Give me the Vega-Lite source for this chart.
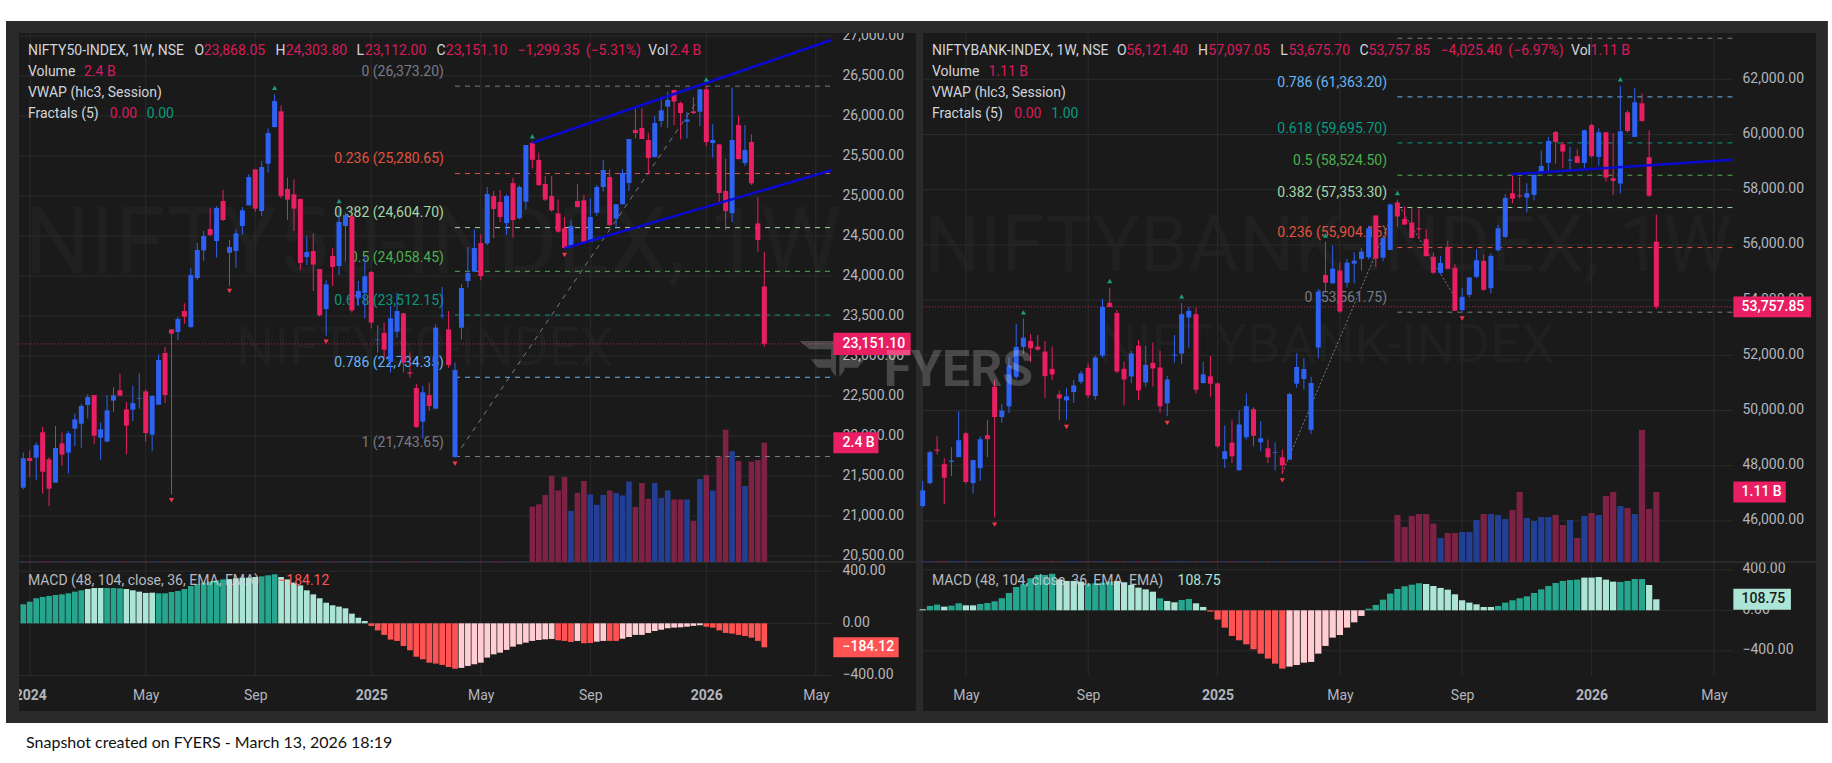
{
"$schema":"https://vega.github.io/schema/vega-lite/v6.json",
"background":"white",
"padding":{"left":5,"top":20,"right":5,"bottom":5},
"config":{"font":"Roboto","view":{"fill":"#1a1a1a","stroke":null},"axis":{"labelColor":"#b2b5be","labelFontSize":14,"domain":false,"ticks":false,"grid":false,"title":null,"labelOverlap":false,"labelBound":false,"labelFlush":false}},
"bounds":"flush",
"spacing":7,
"datasets":{
"nifty":[
{"d":"2023-12-25","o":21354,"h":21792,"l":21333,"c":21721,"v":0.01,"m":146,"t":"gu"},
{"d":"2024-01-01","o":21725,"h":21821,"l":21487,"c":21687,"v":0.01,"m":166,"t":"gu"},
{"d":"2024-01-08","o":21729,"h":21917,"l":21446,"c":21887,"v":0.01,"m":192,"t":"gu"},
{"d":"2024-01-15","o":22046,"h":22112,"l":21279,"c":21554,"v":0.01,"m":202,"t":"gu"},
{"d":"2024-01-22","o":21708,"h":21737,"l":21125,"c":21342,"v":0.01,"m":210,"t":"gu"},
{"d":"2024-01-29","o":21417,"h":22125,"l":21417,"c":21850,"v":0.01,"m":217,"t":"gu"},
{"d":"2024-02-05","o":21908,"h":22042,"l":21625,"c":21767,"v":0.01,"m":222,"t":"gu"},
{"d":"2024-02-12","o":21792,"h":22062,"l":21529,"c":22033,"v":0.01,"m":230,"t":"gu"},
{"d":"2024-02-19","o":22092,"h":22279,"l":21875,"c":22208,"v":0.01,"m":243,"t":"gu"},
{"d":"2024-02-26","o":22154,"h":22404,"l":21854,"c":22375,"v":0.01,"m":253,"t":"gu"},
{"d":"2024-03-04","o":22387,"h":22521,"l":22221,"c":22487,"v":0.01,"m":263,"t":"fu"},
{"d":"2024-03-11","o":22512,"h":22512,"l":21904,"c":22004,"v":0.01,"m":271,"t":"fu"},
{"d":"2024-03-18","o":21979,"h":22167,"l":21704,"c":22083,"v":0.01,"m":271,"t":"fu"},
{"d":"2024-03-25","o":21929,"h":22508,"l":21929,"c":22321,"v":0.01,"m":271,"t":"gu"},
{"d":"2024-04-01","o":22442,"h":22612,"l":22304,"c":22508,"v":0.01,"m":271,"t":"gu"},
{"d":"2024-04-08","o":22571,"h":22779,"l":22500,"c":22504,"v":0.01,"m":268,"t":"gu"},
{"d":"2024-04-15","o":22333,"h":22425,"l":21771,"c":22129,"v":0.01,"m":263,"t":"fu"},
{"d":"2024-04-22","o":22329,"h":22625,"l":22187,"c":22412,"v":0.01,"m":253,"t":"fu"},
{"d":"2024-04-29","o":22467,"h":22783,"l":22342,"c":22475,"v":0.01,"m":243,"t":"fu"},
{"d":"2024-05-06","o":22558,"h":22583,"l":21925,"c":22037,"v":0.01,"m":233,"t":"fu"},
{"d":"2024-05-13","o":22017,"h":22512,"l":21812,"c":22500,"v":0.01,"m":235,"t":"fu"},
{"d":"2024-05-20","o":22392,"h":23021,"l":22392,"c":22950,"v":0.01,"m":230,"t":"gu"},
{"d":"2024-05-27","o":23037,"h":23112,"l":22412,"c":22512,"v":0.01,"m":230,"t":"gu"},
{"d":"2024-06-03","o":23333,"h":23333,"l":21271,"c":23279,"v":0.01,"m":240,"t":"gu"},
{"d":"2024-06-10","o":23300,"h":23487,"l":23200,"c":23462,"v":0.01,"m":248,"t":"gu"},
{"d":"2024-06-17","o":23562,"h":23658,"l":23404,"c":23492,"v":0.01,"m":263,"t":"gu"},
{"d":"2024-06-24","o":23362,"h":24095,"l":23354,"c":24012,"v":0.01,"m":286,"t":"gu"},
{"d":"2024-07-01","o":23975,"h":24412,"l":23950,"c":24325,"v":0.01,"m":299,"t":"gu"},
{"d":"2024-07-08","o":24320,"h":24562,"l":24190,"c":24500,"v":0.01,"m":312,"t":"gu"},
{"d":"2024-07-15","o":24587,"h":24850,"l":24500,"c":24512,"v":0.01,"m":320,"t":"gu"},
{"d":"2024-07-22","o":24437,"h":24875,"l":24230,"c":24850,"v":0.01,"m":330,"t":"gu"},
{"d":"2024-07-29","o":24937,"h":25075,"l":24687,"c":24700,"v":0.01,"m":337,"t":"gu"},
{"d":"2024-08-05","o":24291,"h":24450,"l":23875,"c":24362,"v":0.01,"m":335,"t":"fu"},
{"d":"2024-08-12","o":24312,"h":24583,"l":24104,"c":24533,"v":0.01,"m":345,"t":"fu"},
{"d":"2024-08-19","o":24625,"h":24862,"l":24521,"c":24821,"v":0.01,"m":350,"t":"fu"},
{"d":"2024-08-26","o":24883,"h":25271,"l":24883,"c":25237,"v":0.01,"m":350,"t":"fu"},
{"d":"2024-09-02","o":25333,"h":25333,"l":24804,"c":24842,"v":0.01,"m":355,"t":"fu"},
{"d":"2024-09-09","o":24812,"h":25437,"l":24750,"c":25362,"v":0.01,"m":360,"t":"gu"},
{"d":"2024-09-16","o":25404,"h":25846,"l":25292,"c":25787,"v":0.01,"m":368,"t":"gu"},
{"d":"2024-09-23","o":25862,"h":26271,"l":25854,"c":26187,"v":0.01,"m":376,"t":"gu"},
{"d":"2024-09-30","o":26058,"h":26133,"l":24971,"c":25000,"v":0.01,"m":355,"t":"fu"},
{"d":"2024-10-07","o":25087,"h":25229,"l":24700,"c":24954,"v":0.01,"m":337,"t":"fu"},
{"d":"2024-10-14","o":25021,"h":25208,"l":24562,"c":24842,"v":0.01,"m":312,"t":"fu"},
{"d":"2024-10-21","o":24962,"h":24966,"l":24075,"c":24162,"v":0.01,"m":291,"t":"fu"},
{"d":"2024-10-28","o":24237,"h":24500,"l":24137,"c":24300,"v":0.01,"m":253,"t":"fu"},
{"d":"2024-11-04","o":24312,"h":24529,"l":23812,"c":24142,"v":0.01,"m":222,"t":"fu"},
{"d":"2024-11-11","o":24087,"h":24087,"l":23492,"c":23508,"v":0.01,"m":192,"t":"fu"},
{"d":"2024-11-18","o":23587,"h":23946,"l":23250,"c":23896,"v":0.01,"m":158,"t":"fu"},
{"d":"2024-11-25","o":24250,"h":24346,"l":23875,"c":24112,"v":0.01,"m":138,"t":"fu"},
{"d":"2024-12-02","o":24125,"h":24854,"l":24012,"c":24675,"v":0.01,"m":128,"t":"fu"},
{"d":"2024-12-09","o":24625,"h":24792,"l":24179,"c":24762,"v":0.01,"m":115,"t":"fu"},
{"d":"2024-12-16","o":24746,"h":24762,"l":23542,"c":23571,"v":0.01,"m":74,"t":"fu"},
{"d":"2024-12-23","o":23721,"h":23937,"l":23625,"c":23812,"v":0.01,"m":43,"t":"fu"},
{"d":"2024-12-30","o":23787,"h":24250,"l":23471,"c":23996,"v":0.01,"m":18,"t":"fu"},
{"d":"2025-01-06","o":24050,"h":24062,"l":23346,"c":23417,"v":0.01,"m":-20,"t":"gd"},
{"d":"2025-01-13","o":23196,"h":23387,"l":23041,"c":23204,"v":0.01,"m":-54,"t":"gd"},
{"d":"2025-01-20","o":23287,"h":23417,"l":22979,"c":23079,"v":0.01,"m":-89,"t":"gd"},
{"d":"2025-01-27","o":22929,"h":23625,"l":22792,"c":23471,"v":0.01,"m":-125,"t":"gd"},
{"d":"2025-02-03","o":23304,"h":23792,"l":23229,"c":23562,"v":0.01,"m":-135,"t":"gd"},
{"d":"2025-02-10","o":23533,"h":23541,"l":22792,"c":22917,"v":0.01,"m":-174,"t":"gd"},
{"d":"2025-02-17","o":22796,"h":23041,"l":22729,"c":22779,"v":0.01,"m":-207,"t":"gd"},
{"d":"2025-02-24","o":22600,"h":22654,"l":22104,"c":22112,"v":0.01,"m":-256,"t":"gd"},
{"d":"2025-03-03","o":22179,"h":22625,"l":21967,"c":22546,"v":0.01,"m":-276,"t":"gd"},
{"d":"2025-03-10","o":22512,"h":22667,"l":22312,"c":22375,"v":0.01,"m":-302,"t":"gd"},
{"d":"2025-03-17","o":22342,"h":23396,"l":22333,"c":23354,"v":0.01,"m":-309,"t":"gd"},
{"d":"2025-03-24","o":23500,"h":23862,"l":23471,"c":23508,"v":0.01,"m":-319,"t":"gd"},
{"d":"2025-03-31","o":23333,"h":23562,"l":22854,"c":22887,"v":0.01,"m":-335,"t":"gd"},
{"d":"2025-04-07","o":21737,"h":22917,"l":21729,"c":22825,"v":0.01,"m":-348,"t":"gd"},
{"d":"2025-04-14","o":23354,"h":23896,"l":23208,"c":23850,"v":0.01,"m":-342,"t":"fd"},
{"d":"2025-04-21","o":23937,"h":24362,"l":23854,"c":24037,"v":0.01,"m":-327,"t":"fd"},
{"d":"2025-04-28","o":24054,"h":24583,"l":24054,"c":24350,"v":0.01,"m":-314,"t":"fd"},
{"d":"2025-05-05","o":24412,"h":24521,"l":23946,"c":24000,"v":0.01,"m":-302,"t":"fd"},
{"d":"2025-05-12","o":24408,"h":25112,"l":24387,"c":25025,"v":0.01,"m":-263,"t":"fd"},
{"d":"2025-05-19","o":25000,"h":25062,"l":24471,"c":24837,"v":0.01,"m":-238,"t":"fd"},
{"d":"2025-05-26","o":24925,"h":25075,"l":24671,"c":24737,"v":0.01,"m":-225,"t":"fd"},
{"d":"2025-06-02","o":24662,"h":25021,"l":24512,"c":25000,"v":0.01,"m":-204,"t":"fd"},
{"d":"2025-06-09","o":25162,"h":25229,"l":24479,"c":24700,"v":0.01,"m":-179,"t":"fd"},
{"d":"2025-06-16","o":24721,"h":25133,"l":24708,"c":25112,"v":0.01,"m":-161,"t":"fd"},
{"d":"2025-06-23","o":24929,"h":25637,"l":24833,"c":25637,"v":0.01,"m":-148,"t":"fd"},
{"d":"2025-06-30","o":25662,"h":25687,"l":25341,"c":25454,"v":1.11,"m":-135,"t":"fd"},
{"d":"2025-07-07","o":25450,"h":25541,"l":25125,"c":25137,"v":1.16,"m":-128,"t":"fd"},
{"d":"2025-07-14","o":25150,"h":25250,"l":24937,"c":24954,"v":1.35,"m":-123,"t":"fd"},
{"d":"2025-07-21","o":25000,"h":25250,"l":24804,"c":24821,"v":1.73,"m":-120,"t":"fd"},
{"d":"2025-07-28","o":24783,"h":24958,"l":24541,"c":24554,"v":1.44,"m":-130,"t":"gd"},
{"d":"2025-08-04","o":24596,"h":24737,"l":24346,"c":24350,"v":1.71,"m":-135,"t":"gd"},
{"d":"2025-08-11","o":24362,"h":24696,"l":24362,"c":24625,"v":1.03,"m":-143,"t":"gd"},
{"d":"2025-08-18","o":24937,"h":25146,"l":24854,"c":24862,"v":1.39,"m":-135,"t":"fd"},
{"d":"2025-08-25","o":24946,"h":25012,"l":24408,"c":24417,"v":1.63,"m":-153,"t":"gd"},
{"d":"2025-09-01","o":24425,"h":24971,"l":24425,"c":24737,"v":1.36,"m":-151,"t":"gd"},
{"d":"2025-09-08","o":24791,"h":25137,"l":24750,"c":25112,"v":1.15,"m":-141,"t":"fd"},
{"d":"2025-09-15","o":25112,"h":25450,"l":25054,"c":25325,"v":1.35,"m":-135,"t":"fd"},
{"d":"2025-09-22","o":25237,"h":25333,"l":24625,"c":24637,"v":1.44,"m":-135,"t":"gd"},
{"d":"2025-09-29","o":24717,"h":24896,"l":24592,"c":24896,"v":1.39,"m":-135,"t":"gd"},
{"d":"2025-10-06","o":24896,"h":25333,"l":24896,"c":25287,"v":1.34,"m":-118,"t":"fd"},
{"d":"2025-10-13","o":25162,"h":25712,"l":25062,"c":25712,"v":1.62,"m":-105,"t":"fd"},
{"d":"2025-10-20","o":25825,"h":26112,"l":25721,"c":25787,"v":1.11,"m":-89,"t":"fd"},
{"d":"2025-10-27","o":25850,"h":26096,"l":25712,"c":25712,"v":1.59,"m":-89,"t":"fd"},
{"d":"2025-11-03","o":25700,"h":25791,"l":25270,"c":25475,"v":1.27,"m":-74,"t":"fd"},
{"d":"2025-11-10","o":25487,"h":26000,"l":25479,"c":25912,"v":1.59,"m":-59,"t":"fd"},
{"d":"2025-11-17","o":25937,"h":26237,"l":25862,"c":26071,"v":1.29,"m":-49,"t":"fd"},
{"d":"2025-11-24","o":26117,"h":26304,"l":25854,"c":26200,"v":1.44,"m":-38,"t":"fd"},
{"d":"2025-12-01","o":26325,"h":26325,"l":25887,"c":26179,"v":1.26,"m":-33,"t":"fd"},
{"d":"2025-12-08","o":26162,"h":26179,"l":25708,"c":26037,"v":1.26,"m":-31,"t":"fd"},
{"d":"2025-12-15","o":25929,"h":26054,"l":25721,"c":25958,"v":1.26,"m":-26,"t":"fd"},
{"d":"2025-12-22","o":26058,"h":26237,"l":26021,"c":26037,"v":0.83,"m":-20,"t":"fd"},
{"d":"2025-12-29","o":26054,"h":26333,"l":25875,"c":26333,"v":1.67,"m":-15,"t":"fd"},
{"d":"2026-01-05","o":26333,"h":26373,"l":25625,"c":25675,"v":1.75,"m":-26,"t":"gd"},
{"d":"2026-01-12","o":25662,"h":25896,"l":25479,"c":25700,"v":1.44,"m":-33,"t":"gd"},
{"d":"2026-01-19","o":25646,"h":25646,"l":24925,"c":25037,"v":2.13,"m":-54,"t":"gd"},
{"d":"2026-01-26","o":25062,"h":25467,"l":24575,"c":24812,"v":2.66,"m":-74,"t":"gd"},
{"d":"2026-02-02","o":24787,"h":26354,"l":24675,"c":25700,"v":2.23,"m":-79,"t":"gd"},
{"d":"2026-02-09","o":25887,"h":26008,"l":25454,"c":25462,"v":2.03,"m":-89,"t":"gd"},
{"d":"2026-02-16","o":25412,"h":25887,"l":25375,"c":25575,"v":1.53,"m":-97,"t":"gd"},
{"d":"2026-02-23","o":25675,"h":25771,"l":25137,"c":25158,"v":2.02,"m":-110,"t":"gd"},
{"d":"2026-03-02","o":24658,"h":24987,"l":24304,"c":24450,"v":2.05,"m":-135,"t":"gd"},
{"d":"2026-03-09","o":23868.05,"h":24303.8,"l":23112,"c":23151.1,"v":2.4,"m":-184.12,"t":"gd"}
],
"bank":[
{"d":"2024-03-25","o":46541,"h":47443,"l":46480,"c":47107,"v":0.01,"m":10,"t":"fu"},
{"d":"2024-04-01","o":47371,"h":48550,"l":47323,"c":48490,"v":0.01,"m":43,"t":"gu"},
{"d":"2024-04-08","o":48586,"h":49068,"l":48406,"c":48538,"v":0.01,"m":56,"t":"gu"},
{"d":"2024-04-15","o":48057,"h":48262,"l":46600,"c":47564,"v":0.01,"m":36,"t":"fu"},
{"d":"2024-04-22","o":48141,"h":48671,"l":47624,"c":48189,"v":0.01,"m":46,"t":"gu"},
{"d":"2024-04-29","o":48310,"h":49970,"l":48310,"c":48923,"v":0.01,"m":69,"t":"gu"},
{"d":"2024-05-06","o":49176,"h":49224,"l":47347,"c":47407,"v":0.01,"m":49,"t":"fu"},
{"d":"2024-05-13","o":47371,"h":48201,"l":46987,"c":48201,"v":0.01,"m":49,"t":"fu"},
{"d":"2024-05-20","o":47913,"h":49068,"l":47444,"c":48959,"v":0.01,"m":63,"t":"gu"},
{"d":"2024-05-27","o":49104,"h":49669,"l":48310,"c":48960,"v":0.01,"m":72,"t":"gu"},
{"d":"2024-06-03","o":50860,"h":51113,"l":46130,"c":49765,"v":0.01,"m":89,"t":"gu"},
{"d":"2024-06-10","o":49765,"h":50234,"l":49549,"c":49994,"v":0.01,"m":119,"t":"gu"},
{"d":"2024-06-17","o":50150,"h":51919,"l":49910,"c":51630,"v":0.01,"m":171,"t":"gu"},
{"d":"2024-06-24","o":51221,"h":53134,"l":51137,"c":52304,"v":0.01,"m":230,"t":"gu"},
{"d":"2024-07-01","o":52304,"h":53338,"l":52039,"c":52641,"v":0.01,"m":257,"t":"gu"},
{"d":"2024-07-08","o":52520,"h":52773,"l":51750,"c":52256,"v":0.01,"m":316,"t":"gu"},
{"d":"2024-07-15","o":52316,"h":52737,"l":52171,"c":52207,"v":0.01,"m":349,"t":"gu"},
{"d":"2024-07-22","o":52135,"h":52520,"l":50451,"c":51245,"v":0.01,"m":349,"t":"gu"},
{"d":"2024-07-29","o":51510,"h":52316,"l":51101,"c":51305,"v":0.01,"m":362,"t":"gu"},
{"d":"2024-08-05","o":50583,"h":50716,"l":49645,"c":50439,"v":0.01,"m":306,"t":"fu"},
{"d":"2024-08-12","o":50367,"h":50812,"l":49669,"c":50511,"v":0.01,"m":290,"t":"fu"},
{"d":"2024-08-19","o":50668,"h":51113,"l":50270,"c":50908,"v":0.01,"m":290,"t":"fu"},
{"d":"2024-08-26","o":51040,"h":51437,"l":50968,"c":51341,"v":0.01,"m":283,"t":"fu"},
{"d":"2024-09-02","o":51546,"h":51714,"l":50451,"c":50547,"v":0.01,"m":263,"t":"gu"},
{"d":"2024-09-09","o":50523,"h":51991,"l":50391,"c":51919,"v":0.01,"m":267,"t":"gu"},
{"d":"2024-09-16","o":51991,"h":54036,"l":51919,"c":53747,"v":0.01,"m":273,"t":"gu"},
{"d":"2024-09-23","o":53904,"h":54445,"l":53747,"c":53747,"v":0.01,"m":283,"t":"gu"},
{"d":"2024-09-30","o":53531,"h":53639,"l":51353,"c":51413,"v":0.01,"m":290,"t":"fu"},
{"d":"2024-10-07","o":51510,"h":51774,"l":50187,"c":51125,"v":0.01,"m":277,"t":"fu"},
{"d":"2024-10-14","o":51233,"h":52159,"l":50992,"c":52063,"v":0.01,"m":250,"t":"fu"},
{"d":"2024-10-21","o":52352,"h":52556,"l":50379,"c":50728,"v":0.01,"m":224,"t":"fu"},
{"d":"2024-10-28","o":51016,"h":52340,"l":50873,"c":51654,"v":0.01,"m":207,"t":"fu"},
{"d":"2024-11-04","o":51726,"h":52460,"l":50872,"c":51522,"v":0.01,"m":184,"t":"fu"},
{"d":"2024-11-11","o":51558,"h":52159,"l":49910,"c":50150,"v":0.01,"m":119,"t":"gu"},
{"d":"2024-11-18","o":50258,"h":51257,"l":49790,"c":51125,"v":0.01,"m":92,"t":"fu"},
{"d":"2024-11-25","o":51991,"h":52737,"l":51738,"c":52027,"v":0.01,"m":79,"t":"fu"},
{"d":"2024-12-02","o":52061,"h":53891,"l":51698,"c":53491,"v":0.01,"m":102,"t":"gu"},
{"d":"2024-12-09","o":53370,"h":53758,"l":52280,"c":53613,"v":0.01,"m":112,"t":"gu"},
{"d":"2024-12-16","o":53491,"h":53734,"l":50619,"c":50752,"v":0.01,"m":69,"t":"fu"},
{"d":"2024-12-23","o":50995,"h":51758,"l":50970,"c":51310,"v":0.01,"m":33,"t":"fu"},
{"d":"2024-12-30","o":51237,"h":51976,"l":50498,"c":50970,"v":0.01,"m":-13,"t":"gd"},
{"d":"2025-01-06","o":50983,"h":51007,"l":48643,"c":48704,"v":0.01,"m":-92,"t":"gd"},
{"d":"2025-01-13","o":48244,"h":49455,"l":47916,"c":48522,"v":0.01,"m":-171,"t":"gd"},
{"d":"2025-01-20","o":48837,"h":49637,"l":48098,"c":48340,"v":0.01,"m":-253,"t":"gd"},
{"d":"2025-01-27","o":47831,"h":50001,"l":47831,"c":49492,"v":0.01,"m":-296,"t":"gd"},
{"d":"2025-02-03","o":49031,"h":50619,"l":48946,"c":50158,"v":0.01,"m":-336,"t":"gd"},
{"d":"2025-02-10","o":50049,"h":50122,"l":48704,"c":49080,"v":0.01,"m":-385,"t":"gd"},
{"d":"2025-02-17","o":48849,"h":49613,"l":48522,"c":48995,"v":0.01,"m":-428,"t":"gd"},
{"d":"2025-02-24","o":48631,"h":48946,"l":48098,"c":48305,"v":0.01,"m":-477,"t":"gd"},
{"d":"2025-03-03","o":48462,"h":48849,"l":47831,"c":48486,"v":0.01,"m":-527,"t":"gd"},
{"d":"2025-03-10","o":48305,"h":48583,"l":47698,"c":48013,"v":0.01,"m":-576,"t":"gd"},
{"d":"2025-03-17","o":48219,"h":50643,"l":48219,"c":50595,"v":0.01,"m":-556,"t":"fd"},
{"d":"2025-03-24","o":50970,"h":52073,"l":50825,"c":51576,"v":0.01,"m":-540,"t":"fd"},
{"d":"2025-03-31","o":51140,"h":51892,"l":50764,"c":51504,"v":0.01,"m":-517,"t":"fd"},
{"d":"2025-04-07","o":49298,"h":51225,"l":49152,"c":50995,"v":0.01,"m":-510,"t":"fd"},
{"d":"2025-04-14","o":52280,"h":54400,"l":51892,"c":54303,"v":0.01,"m":-428,"t":"fd"},
{"d":"2025-04-21","o":54909,"h":56121,"l":54279,"c":54631,"v":0.01,"m":-352,"t":"fd"},
{"d":"2025-04-28","o":54606,"h":55976,"l":54606,"c":55140,"v":0.01,"m":-270,"t":"fd"},
{"d":"2025-05-05","o":55067,"h":55370,"l":53540,"c":53588,"v":0.01,"m":-244,"t":"fd"},
{"d":"2025-05-12","o":54631,"h":55491,"l":54461,"c":55358,"v":0.01,"m":-171,"t":"fd"},
{"d":"2025-05-19","o":55321,"h":55734,"l":54606,"c":55430,"v":0.01,"m":-119,"t":"fd"},
{"d":"2025-05-26","o":55491,"h":55891,"l":55067,"c":55758,"v":0.01,"m":-56,"t":"fd"},
{"d":"2025-06-02","o":55552,"h":56703,"l":55479,"c":56594,"v":0.01,"m":16,"t":"gu"},
{"d":"2025-06-09","o":57067,"h":57067,"l":55188,"c":55503,"v":0.01,"m":53,"t":"gu"},
{"d":"2025-06-16","o":55540,"h":56303,"l":55406,"c":56243,"v":0.01,"m":105,"t":"gu"},
{"d":"2025-06-23","o":55818,"h":57491,"l":55818,"c":57467,"v":0.01,"m":165,"t":"gu"},
{"d":"2025-06-30","o":57540,"h":57636,"l":56642,"c":57030,"v":0.745,"m":211,"t":"gu"},
{"d":"2025-07-07","o":56945,"h":57394,"l":56715,"c":56740,"v":0.555,"m":237,"t":"gu"},
{"d":"2025-07-14","o":56812,"h":57346,"l":56254,"c":56254,"v":0.729,"m":253,"t":"gu"},
{"d":"2025-07-21","o":56600,"h":57309,"l":56218,"c":56560,"v":0.761,"m":267,"t":"gu"},
{"d":"2025-07-28","o":56207,"h":56569,"l":55591,"c":55591,"v":0.761,"m":260,"t":"fu"},
{"d":"2025-08-04","o":55567,"h":55724,"l":54940,"c":54988,"v":0.608,"m":240,"t":"fu"},
{"d":"2025-08-11","o":54988,"h":55603,"l":54940,"c":55350,"v":0.381,"m":221,"t":"fu"},
{"d":"2025-08-18","o":55929,"h":56146,"l":55120,"c":55132,"v":0.46,"m":204,"t":"fu"},
{"d":"2025-08-25","o":55169,"h":55302,"l":53612,"c":53612,"v":0.46,"m":158,"t":"fu"},
{"d":"2025-09-01","o":53636,"h":54432,"l":53588,"c":54118,"v":0.476,"m":99,"t":"fu"},
{"d":"2025-09-08","o":54191,"h":54845,"l":54094,"c":54819,"v":0.476,"m":76,"t":"fu"},
{"d":"2025-09-15","o":54843,"h":55845,"l":54795,"c":55446,"v":0.666,"m":59,"t":"fu"},
{"d":"2025-09-22","o":55422,"h":55664,"l":54336,"c":54372,"v":0.761,"m":33,"t":"fu"},
{"d":"2025-09-29","o":54432,"h":55688,"l":54239,"c":55603,"v":0.761,"m":33,"t":"fu"},
{"d":"2025-10-06","o":55808,"h":56726,"l":55760,"c":56605,"v":0.745,"m":43,"t":"gu"},
{"d":"2025-10-13","o":56291,"h":57836,"l":56243,"c":57703,"v":0.682,"m":76,"t":"gu"},
{"d":"2025-10-20","o":57872,"h":58560,"l":57498,"c":57679,"v":0.825,"m":99,"t":"gu"},
{"d":"2025-10-27","o":57800,"h":58464,"l":57691,"c":57764,"v":1.11,"m":119,"t":"gu"},
{"d":"2025-11-03","o":57715,"h":58234,"l":57172,"c":57872,"v":0.698,"m":138,"t":"gu"},
{"d":"2025-11-10","o":57812,"h":58560,"l":57619,"c":58536,"v":0.65,"m":171,"t":"gu"},
{"d":"2025-11-17","o":58645,"h":59429,"l":58645,"c":58862,"v":0.714,"m":207,"t":"gu"},
{"d":"2025-11-24","o":58971,"h":59912,"l":58645,"c":59767,"v":0.714,"m":240,"t":"gu"},
{"d":"2025-12-01","o":60093,"h":60129,"l":58947,"c":59731,"v":0.745,"m":270,"t":"gu"},
{"d":"2025-12-08","o":59647,"h":59731,"l":58778,"c":59381,"v":0.587,"m":290,"t":"gu"},
{"d":"2025-12-15","o":59055,"h":59550,"l":58705,"c":59091,"v":0.666,"m":299,"t":"gu"},
{"d":"2025-12-22","o":59212,"h":59465,"l":58958,"c":58971,"v":0.381,"m":303,"t":"gu"},
{"d":"2025-12-29","o":58971,"h":60177,"l":58778,"c":60153,"v":0.729,"m":323,"t":"fu"},
{"d":"2026-01-05","o":60347,"h":60395,"l":59164,"c":59212,"v":0.777,"m":323,"t":"fu"},
{"d":"2026-01-12","o":59188,"h":60226,"l":58862,"c":60081,"v":0.745,"m":329,"t":"fu"},
{"d":"2026-01-19","o":60081,"h":60093,"l":58295,"c":58440,"v":1.047,"m":303,"t":"fu"},
{"d":"2026-01-26","o":58415,"h":60045,"l":57800,"c":58319,"v":1.11,"m":283,"t":"fu"},
{"d":"2026-02-02","o":58222,"h":61759,"l":57860,"c":60117,"v":0.888,"m":280,"t":"gu"},
{"d":"2026-02-09","o":60805,"h":60878,"l":60069,"c":60129,"v":0.856,"m":290,"t":"gu"},
{"d":"2026-02-16","o":59912,"h":61674,"l":59912,"c":61167,"v":0.761,"m":309,"t":"gu"},
{"d":"2026-02-23","o":61131,"h":61481,"l":60467,"c":60491,"v":2.093,"m":309,"t":"gu"},
{"d":"2026-03-02","o":59176,"h":60154,"l":57740,"c":57783.25,"v":0.84,"m":250,"t":"fu"},
{"d":"2026-03-09","o":56121.4,"h":57097.05,"l":53675.7,"c":53757.85,"v":1.11,"m":108.75,"t":"fu"}
]
},
"hconcat":[
{"width":897,"height":678,
"resolve":{"scale":{"y":"independent"},"axis":{"y":"independent"}},
"encoding":{"x":{"field":"d","type":"temporal","title":null,"scale":{"domain":["2023-12-20T08:00:00","2026-08-20T19:00:00"],"padding":0},
 "axis":{"orient":"bottom","offset":-35,"labelPadding":12,"values":["2024-01-01T12:00:00","2024-05-06","2024-09-02","2025-01-06","2025-05-05","2025-09-01","2026-01-05","2026-05-04"],"labelExpr":"month(datum.value)==0?''+year(datum.value):timeFormat(datum.value,'%b')","labelFontWeight":{"condition":{"test":"month(datum.value)==0","value":"bold"},"value":"normal"}}}},
"layer":[
{"encoding":{"y":{"field":"p","type":"quantitative","title":null,"scale":{"domain":[18562.5,27037.5],"nice":false,"zero":false},
 "axis":{"orient":"right","offset":-83,"labelPadding":9,"labelOffset":-1,"format":",.2f","values":[20500,21000,21500,22000,22500,23000,23500,24000,24500,25000,25500,26000,26500,27000]}}},
 "layer":[
 {"data":{"values":[
 {"d":"2023-12-06T05:00:00","d2":"2023-12-20T08:00:00","p":18412.5,"p2":27187.5},
 {"d":"2023-12-20T08:00:00","d2":"2026-09-01","p":27037.5,"p2":27187.5},
 {"d":"2023-12-20T08:00:00","d2":"2026-09-01","p":18412.5,"p2":18562.5},
 {"d":"2026-08-20T19:00:00","d2":"2026-09-01","p":18562.5,"p2":27037.5}]},
 "mark":{"type":"rect","color":"#2a2a2a"},"encoding":{"x2":{"field":"d2"},"y2":{"field":"p2"}}},
 {"data":{"values":[{"d":"2023-12-26","p":24393,"s":"NIFTY50-INDEX, 1W"}]},
 "mark":{"type":"text","align":"left","baseline":"middle","fontSize":92,"color":"#202020"},"encoding":{"text":{"field":"s"}}},
 {"data":{"values":[{"d":"2024-08-12","p":23087,"s":"NIFTY50-INDEX"}]},
 "mark":{"type":"text","align":"left","baseline":"middle","fontSize":54,"color":"#202020"},"encoding":{"text":{"field":"s"}}},
 {"data":{"values":[
 {"d":"2023-12-20T08:00:00","d2":"2026-05-23","p":20500,"p2":20500},{"d":"2023-12-20T08:00:00","d2":"2026-05-23","p":21000,"p2":21000},
 {"d":"2023-12-20T08:00:00","d2":"2026-05-23","p":21500,"p2":21500},{"d":"2023-12-20T08:00:00","d2":"2026-05-23","p":22000,"p2":22000},
 {"d":"2023-12-20T08:00:00","d2":"2026-05-23","p":22500,"p2":22500},{"d":"2023-12-20T08:00:00","d2":"2026-05-23","p":23000,"p2":23000},
 {"d":"2023-12-20T08:00:00","d2":"2026-05-23","p":23500,"p2":23500},{"d":"2023-12-20T08:00:00","d2":"2026-05-23","p":24000,"p2":24000},
 {"d":"2023-12-20T08:00:00","d2":"2026-05-23","p":24500,"p2":24500},{"d":"2023-12-20T08:00:00","d2":"2026-05-23","p":25000,"p2":25000},
 {"d":"2023-12-20T08:00:00","d2":"2026-05-23","p":25500,"p2":25500},{"d":"2023-12-20T08:00:00","d2":"2026-05-23","p":26000,"p2":26000},
 {"d":"2023-12-20T08:00:00","d2":"2026-05-23","p":26500,"p2":26500},{"d":"2023-12-20T08:00:00","d2":"2026-05-23","p":27000,"p2":27000},
 {"d":"2024-01-01T12:00:00","d2":"2024-01-01T12:00:00","p":19000,"p2":27037},{"d":"2024-05-06","d2":"2024-05-06","p":19000,"p2":27037},
 {"d":"2024-09-02","d2":"2024-09-02","p":19000,"p2":27037},{"d":"2025-01-06","d2":"2025-01-06","p":19000,"p2":27037},
 {"d":"2025-05-05","d2":"2025-05-05","p":19000,"p2":27037},{"d":"2025-09-01","d2":"2025-09-01","p":19000,"p2":27037},
 {"d":"2026-01-05","d2":"2026-01-05","p":19000,"p2":27037},{"d":"2026-05-04","d2":"2026-05-04","p":19000,"p2":27037}]},
 "mark":{"type":"rule","color":"#2b2b2b","strokeWidth":1},"encoding":{"x2":{"field":"d2"},"y2":{"field":"p2"}}},
 {"data":{"values":[{"d":"2023-12-20T08:00:00","d2":"2026-08-20T19:00:00","p":20425}]},
 "mark":{"type":"rule","color":"#3a3a3a","strokeWidth":1},"encoding":{"x2":{"field":"d2"}}}
 ]},
{"data":{"name":"nifty"},"encoding":{"y":{"field":"v","type":"quantitative","title":null,"axis":null,"scale":{"domain":[-2.998,10.644],"nice":false,"zero":false}}},
 "layer":[
 {"mark":{"type":"bar","size":5.6},"encoding":{"y2":{"datum":0},"color":{"condition":{"test":"datum.c>=datum.o","value":"#233f94"},"value":"#7d2145"}}}
 ]},
{"encoding":{"y":{"field":"p","type":"quantitative","title":null,"axis":null,"scale":{"domain":[18562.5,27037.5],"nice":false,"zero":false}}},
 "layer":[
 {"data":{"values":[
 {"d":"2025-04-07","d2":"2026-05-21","p":26373.2,"k":"gray"},{"d":"2025-04-07","d2":"2026-05-21","p":25280.65,"k":"red"},
 {"d":"2025-04-07","d2":"2026-05-21","p":24604.7,"k":"lgreen"},{"d":"2025-04-07","d2":"2026-05-21","p":24058.45,"k":"green"},
 {"d":"2025-04-07","d2":"2026-05-21","p":23512.15,"k":"teal"},{"d":"2025-04-07","d2":"2026-05-21","p":22734.35,"k":"blue"},
 {"d":"2025-04-07","d2":"2026-05-21","p":21743.65,"k":"gray"}]},
 "mark":{"type":"rule","strokeDash":[5,5],"strokeWidth":1},"encoding":{"x2":{"field":"d2"},"color":{"field":"k","type":"nominal","legend":null,"scale":{"domain":["gray","red","lgreen","green","teal","blue","white","rose","mint","gu","fu","gd","fd"],"range":["#787b86","#e0533f","#a5d6a7","#4caf50","#089981","#64b5f6","#d1d4dc","#d81b5c","#ff5252","#26a68f","#ace5d5","#ff5252","#ffcdd2"]}}}},
 {"data":{"values":[
 {"d":"2025-03-26","p":26554,"s":"0 (26,373.20)","k":"gray"},{"d":"2025-03-26","p":25462,"s":"0.236 (25,280.65)","k":"red"},
 {"d":"2025-03-26","p":24787,"s":"0.382 (24,604.70)","k":"lgreen"},{"d":"2025-03-26","p":24229,"s":"0.5 (24,058.45)","k":"green"},
 {"d":"2025-03-26","p":23687,"s":"0.618 (23,512.15)","k":"teal"},{"d":"2025-03-26","p":22912,"s":"0.786 (22,734.35)","k":"blue"},
 {"d":"2025-03-26","p":21909,"s":"1 (21,743.65)","k":"gray"}]},
 "mark":{"type":"text","align":"right","baseline":"middle","fontSize":14},"encoding":{"text":{"field":"s"},"color":{"field":"k","type":"nominal","legend":null,"scale":{"domain":["gray","red","lgreen","green","teal","blue","white","rose","mint","gu","fu","gd","fd"],"range":["#787b86","#e0533f","#a5d6a7","#4caf50","#089981","#64b5f6","#d1d4dc","#d81b5c","#ff5252","#26a68f","#ace5d5","#ff5252","#ffcdd2"]}}}},
 {"data":{"values":[{"d":"2025-04-14","d2":"2025-12-29","p":21854,"p2":26237}]},
 "mark":{"type":"rule","color":"#787b86","strokeDash":[5,5],"strokeWidth":1},"encoding":{"x2":{"field":"d2"},"y2":{"field":"p2"}}},
 {"data":{"values":[{"d":"2023-12-20T08:00:00","d2":"2026-05-23","p":23151.1}]},
 "mark":{"type":"rule","color":"#b8264f","strokeDash":[1,2],"strokeWidth":1},"encoding":{"x2":{"field":"d2"}}},
 {"data":{"name":"nifty"},"mark":{"type":"rule","strokeWidth":1},"encoding":{"y":{"field":"l"},"y2":{"field":"h"},"color":{"condition":{"test":"datum.c>=datum.o","value":"#2e62f2"},"value":"#e91e63"}}},
 {"data":{"name":"nifty"},"mark":{"type":"bar","size":5},"encoding":{"y":{"field":"o"},"y2":{"field":"c"},"color":{"condition":{"test":"datum.c>=datum.o","value":"#2e62f2"},"value":"#e91e63"}}},
 {"data":{"values":[{"d":"2025-06-30","d2":"2026-05-21","p":25666,"p2":26950},{"d":"2025-08-04","d2":"2026-05-21","p":24346,"p2":25321}]},
 "mark":{"type":"rule","color":"#0a0ad2","strokeWidth":2.5},"encoding":{"x2":{"field":"d2"},"y2":{"field":"p2"}}},
 {"data":{"values":[{"d":"2024-09-23","p":26354},{"d":"2024-12-02","p":24937},{"d":"2025-06-30","p":25746},{"d":"2026-01-05","p":26458}]},
 "mark":{"type":"point","shape":"triangle-up","filled":true,"size":26,"opacity":1,"color":"#1a9c80"}},
 {"data":{"values":[{"d":"2024-06-03","p":21196},{"d":"2024-08-05","p":23812},{"d":"2024-11-18","p":23179},{"d":"2025-04-07","p":21654},{"d":"2025-08-04","p":24262}]},
 "mark":{"type":"point","shape":"triangle-down","filled":true,"size":26,"opacity":1,"color":"#f23645"}},
 {"data":{"values":[
 {"d":"2023-12-30","p":26812.5,"s":"NIFTY50-INDEX, 1W, NSE","k":"white"},
 {"d":"2024-06-28","p":26812.5,"s":"O","k":"white"},{"d":"2024-07-08","p":26812.5,"s":"23,868.05","k":"rose"},
 {"d":"2024-09-24","p":26812.5,"s":"H","k":"white"},{"d":"2024-10-05","p":26812.5,"s":"24,303.80","k":"rose"},
 {"d":"2024-12-21","p":26812.5,"s":"L","k":"white"},{"d":"2024-12-30","p":26812.5,"s":"23,112.00","k":"rose"},
 {"d":"2025-03-18","p":26812.5,"s":"C","k":"white"},{"d":"2025-03-28","p":26812.5,"s":"23,151.10","k":"rose"},
 {"d":"2025-06-14","p":26812.5,"s":"−1,299.35","k":"rose"},{"d":"2025-08-27","p":26812.5,"s":"(−5.31%)","k":"rose"},
 {"d":"2025-11-03","p":26812.5,"s":"Vol","k":"white"},{"d":"2025-11-26","p":26812.5,"s":"2.4 B","k":"rose"},
 {"d":"2023-12-30","p":26546,"s":"Volume","k":"white"},{"d":"2024-02-29","p":26546,"s":"2.4 B","k":"rose"},
 {"d":"2023-12-30","p":26284,"s":"VWAP (hlc3, Session)","k":"white"},
 {"d":"2023-12-30","p":26021,"s":"Fractals (5)","k":"white"},{"d":"2024-03-28","p":26021,"s":"0.00","k":"rose"},{"d":"2024-05-07","p":26021,"s":"0.00","k":"teal"}]},
 "mark":{"type":"text","align":"left","baseline":"middle","fontSize":14},"encoding":{"text":{"field":"s"},"color":{"field":"k","type":"nominal","legend":null,"scale":{"domain":["gray","red","lgreen","green","teal","blue","white","rose","mint","gu","fu","gd","fd"],"range":["#787b86","#e0533f","#a5d6a7","#4caf50","#089981","#64b5f6","#d1d4dc","#d81b5c","#ff5252","#26a68f","#ace5d5","#ff5252","#ffcdd2"]}}}},
 {"data":{"values":[{"d":"2026-05-22T07:00:00","p":22904}]},
 "mark":{"type":"point","filled":true,"size":4444,"color":"#ffffff","opacity":0.2,"shape":"M-1,-.68L1,-.68L.9,-.43L-.7,-.43ZM-.65,-.13L-.05,-.13L-.05,.12L-.45,.12ZM.35,-.13L.95,-.13L.75,.12L.35,.12ZM-.05,-.43L.1,-.43L.1,.4L-.05,.2ZM.2,-.43L.35,-.43L.35,.2L.2,.4Z"}},
 {"data":{"values":[{"d":"2026-05-23","d2":"2026-08-15","p":23012,"p2":23290}]},
 "mark":{"type":"rect","color":"#e91e63"},"encoding":{"x2":{"field":"d2"},"y2":{"field":"p2"}}},
 {"data":{"values":[{"d":"2026-06-02","p":23151.1,"s":"23,151.10"}]},
 "mark":{"type":"text","align":"left","baseline":"middle","fontSize":14,"fontWeight":500,"color":"#ffffff"},"encoding":{"text":{"field":"s"}}},
 {"data":{"values":[{"d":"2023-12-28","p":18162,"s":"Snapshot created on FYERS - March 13, 2026 18:19"}]},
 "mark":{"type":"text","align":"left","baseline":"middle","font":"Lato","fontSize":16,"color":"#111111"},"encoding":{"text":{"field":"s"}}}
 ]},
{"encoding":{"y":{"field":"m","type":"quantitative","title":null,"scale":{"domain":[-672.5,4527],"nice":false,"zero":false},
 "axis":{"orient":"right","offset":-83,"labelPadding":9,"labelOffset":-1,"format":",.2f","values":[400,0,-400]}}},
 "layer":[
 {"data":{"values":[{"d":"2023-12-20T08:00:00","d2":"2026-05-23","m":400},{"d":"2023-12-20T08:00:00","d2":"2026-05-23","m":0},{"d":"2023-12-20T08:00:00","d2":"2026-05-23","m":-400}]},
 "mark":{"type":"rule","color":"#2b2b2b","strokeWidth":1},"encoding":{"x2":{"field":"d2"}}},
 {"data":{"name":"nifty"},"mark":{"type":"bar","size":5.7},"encoding":{"y2":{"datum":0},"color":{"field":"t","type":"nominal","legend":null,"scale":{"domain":["gray","red","lgreen","green","teal","blue","white","rose","mint","gu","fu","gd","fd"],"range":["#787b86","#e0533f","#a5d6a7","#4caf50","#089981","#64b5f6","#d1d4dc","#d81b5c","#ff5252","#26a68f","#ace5d5","#ff5252","#ffcdd2"]}}}},
 {"data":{"values":[{"d":"2023-12-30","m":324,"s":"MACD (48, 104, close, 36, EMA, EMA)"}]},
 "mark":{"type":"text","align":"left","baseline":"middle","fontSize":14,"color":"#d1d4dc","opacity":0.85},"encoding":{"text":{"field":"s"}}},
 {"data":{"values":[{"d":"2024-09-27","m":324,"s":"−184.12"}]},
 "mark":{"type":"text","align":"left","baseline":"middle","fontSize":14,"color":"#ff5252"},"encoding":{"text":{"field":"s"}}},
 {"data":{"values":[{"d":"2026-05-23","d2":"2026-08-02","m":-261,"m2":-107}]},
 "mark":{"type":"rect","color":"#ff5252"},"encoding":{"x2":{"field":"d2"},"y2":{"field":"m2"}}},
 {"data":{"values":[{"d":"2026-06-02","m":-184.12,"s":"−184.12"}]},
 "mark":{"type":"text","align":"left","baseline":"middle","fontSize":14,"fontWeight":500,"color":"#ffffff"},"encoding":{"text":{"field":"s"}}}
 ]},
{"encoding":{"y":{"field":"v","type":"quantitative","title":null,"axis":null,"scale":{"domain":[-2.998,10.644],"nice":false,"zero":false}}},
 "layer":[
 {"data":{"values":[{"d":"2026-05-23","d2":"2026-07-11","v":2.19,"v2":2.61}]},
 "mark":{"type":"rect","color":"#e91e63"},"encoding":{"x2":{"field":"d2"},"y2":{"field":"v2"}}},
 {"data":{"values":[{"d":"2026-06-02","v":2.4,"s":"2.4 B"}]},
 "mark":{"type":"text","align":"left","baseline":"middle","fontSize":14,"fontWeight":500,"color":"#ffffff"},"encoding":{"text":{"field":"s"}}}
 ]}
]},
{"width":893,"height":678,
"resolve":{"scale":{"y":"independent"},"axis":{"y":"independent"}},
"encoding":{"x":{"field":"d","type":"temporal","title":null,"scale":{"domain":["2024-03-25T07:00:00","2026-08-11T10:00:00"],"padding":0},
 "axis":{"orient":"bottom","offset":-35,"labelPadding":12,"values":["2024-05-06","2024-09-02","2025-01-06","2025-05-05","2025-09-01","2026-01-05","2026-05-04"],"labelExpr":"month(datum.value)==0?''+year(datum.value):timeFormat(datum.value,'%b')","labelFontWeight":{"condition":{"test":"month(datum.value)==0","value":"bold"},"value":"normal"}}}},
"layer":[
{"encoding":{"y":{"field":"p","type":"quantitative","title":null,"scale":{"domain":[39112,63678],"nice":false,"zero":false},
 "axis":{"orient":"right","offset":-83,"labelPadding":9,"labelOffset":-1,"format":",.2f","values":[46000,48000,50000,52000,54000,56000,58000,60000,62000]}}},
 "layer":[
 {"data":{"values":[
 {"d":"2024-03-25T07:00:00","d2":"2026-08-23","p":63678,"p2":64112},
 {"d":"2024-03-25T07:00:00","d2":"2026-08-23","p":38677,"p2":39112},
 {"d":"2026-08-11T10:00:00","d2":"2026-08-23","p":39112,"p2":63678}]},
 "mark":{"type":"rect","color":"#2a2a2a"},"encoding":{"x2":{"field":"d2"},"y2":{"field":"p2"}}},
 {"data":{"values":[{"d":"2024-03-27","p":55888,"s":"NIFTYBANK-INDEX, 1W"}]},
 "mark":{"type":"text","align":"left","baseline":"middle","fontSize":78,"color":"#202020"},"encoding":{"text":{"field":"s"}}},
 {"data":{"values":[{"d":"2024-09-12","p":52350,"s":"NIFTYBANK-INDEX"}]},
 "mark":{"type":"text","align":"left","baseline":"middle","fontSize":54,"color":"#202020"},"encoding":{"text":{"field":"s"}}},
 {"data":{"values":[
 {"d":"2024-03-25T07:00:00","d2":"2026-05-23","p":46000,"p2":46000},{"d":"2024-03-25T07:00:00","d2":"2026-05-23","p":48000,"p2":48000},
 {"d":"2024-03-25T07:00:00","d2":"2026-05-23","p":50000,"p2":50000},{"d":"2024-03-25T07:00:00","d2":"2026-05-23","p":52000,"p2":52000},
 {"d":"2024-03-25T07:00:00","d2":"2026-05-23","p":54000,"p2":54000},{"d":"2024-03-25T07:00:00","d2":"2026-05-23","p":56000,"p2":56000},
 {"d":"2024-03-25T07:00:00","d2":"2026-05-23","p":58000,"p2":58000},{"d":"2024-03-25T07:00:00","d2":"2026-05-23","p":60000,"p2":60000},
 {"d":"2024-03-25T07:00:00","d2":"2026-05-23","p":62000,"p2":62000},
 {"d":"2024-05-06","d2":"2024-05-06","p":40380,"p2":63678},{"d":"2024-09-02","d2":"2024-09-02","p":40380,"p2":63678},
 {"d":"2025-01-06","d2":"2025-01-06","p":40380,"p2":63678},{"d":"2025-05-05","d2":"2025-05-05","p":40380,"p2":63678},
 {"d":"2025-09-01","d2":"2025-09-01","p":40380,"p2":63678},{"d":"2026-01-05","d2":"2026-01-05","p":40380,"p2":63678},
 {"d":"2026-05-04","d2":"2026-05-04","p":40380,"p2":63678}]},
 "mark":{"type":"rule","color":"#2b2b2b","strokeWidth":1},"encoding":{"x2":{"field":"d2"},"y2":{"field":"p2"}}},
 {"data":{"values":[{"d":"2024-03-25T07:00:00","d2":"2026-08-11T10:00:00","p":44511}]},
 "mark":{"type":"rule","color":"#3a3a3a","strokeWidth":1},"encoding":{"x2":{"field":"d2"}}}
 ]},
{"data":{"name":"bank"},"encoding":{"y":{"field":"v","type":"quantitative","title":null,"axis":null,"scale":{"domain":[-2.363,8.389],"nice":false,"zero":false}}},
 "layer":[
 {"mark":{"type":"bar","size":6.2},"encoding":{"y2":{"datum":0},"color":{"condition":{"test":"datum.c>=datum.o","value":"#233f94"},"value":"#7d2145"}}}
 ]},
{"encoding":{"y":{"field":"p","type":"quantitative","title":null,"axis":null,"scale":{"domain":[39112,63678],"nice":false,"zero":false}}},
 "layer":[
 {"data":{"values":[
 {"d":"2025-06-30","d2":"2026-05-23","p":63487,"k":"gray"},{"d":"2025-06-30","d2":"2026-05-23","p":61363.2,"k":"blue"},
 {"d":"2025-06-30","d2":"2026-05-23","p":59695.7,"k":"teal"},{"d":"2025-06-30","d2":"2026-05-23","p":58524.5,"k":"green"},
 {"d":"2025-06-30","d2":"2026-05-23","p":57353.3,"k":"lgreen"},{"d":"2025-06-30","d2":"2026-05-23","p":55904.15,"k":"red"},
 {"d":"2025-06-30","d2":"2026-05-23","p":53561.75,"k":"gray"}]},
 "mark":{"type":"rule","strokeDash":[5,5],"strokeWidth":1},"encoding":{"x2":{"field":"d2"},"color":{"field":"k","type":"nominal","legend":null,"scale":{"domain":["gray","red","lgreen","green","teal","blue","white","rose","mint","gu","fu","gd","fd"],"range":["#787b86","#e0533f","#a5d6a7","#4caf50","#089981","#64b5f6","#d1d4dc","#d81b5c","#ff5252","#26a68f","#ace5d5","#ff5252","#ffcdd2"]}}}},
 {"data":{"values":[
 {"d":"2025-06-20","p":61866,"s":"0.786 (61,363.20)","k":"blue"},{"d":"2025-06-20","p":60188,"s":"0.618 (59,695.70)","k":"teal"},
 {"d":"2025-06-20","p":59029,"s":"0.5 (58,524.50)","k":"green"},{"d":"2025-06-20","p":57870,"s":"0.382 (57,353.30)","k":"lgreen"},
 {"d":"2025-06-20","p":56431,"s":"0.236 (55,904.15)","k":"red"},{"d":"2025-06-20","p":54065,"s":"0 (53,561.75)","k":"gray"}]},
 "mark":{"type":"text","align":"right","baseline":"middle","fontSize":14},"encoding":{"text":{"field":"s"},"color":{"field":"k","type":"nominal","legend":null,"scale":{"domain":["gray","red","lgreen","green","teal","blue","white","rose","mint","gu","fu","gd","fd"],"range":["#787b86","#e0533f","#a5d6a7","#4caf50","#089981","#64b5f6","#d1d4dc","#d81b5c","#ff5252","#26a68f","#ace5d5","#ff5252","#ffcdd2"]}}}},
 {"data":{"values":[{"d":"2025-03-10","d2":"2025-06-24","p":47746,"p2":56986},{"d":"2025-06-30","d2":"2025-08-23","p":57529,"p2":54221}]},
 "mark":{"type":"rule","color":"#787b86","strokeDash":[2,2],"strokeWidth":1},"encoding":{"x2":{"field":"d2"},"y2":{"field":"p2"}}},
 {"data":{"values":[{"d":"2024-03-25T07:00:00","d2":"2026-05-23","p":53757.85}]},
 "mark":{"type":"rule","color":"#b8264f","strokeDash":[1,2],"strokeWidth":1},"encoding":{"x2":{"field":"d2"}}},
 {"data":{"name":"bank"},"mark":{"type":"rule","strokeWidth":1},"encoding":{"y":{"field":"l"},"y2":{"field":"h"},"color":{"condition":{"test":"datum.c>=datum.o","value":"#2e62f2"},"value":"#e91e63"}}},
 {"data":{"name":"bank"},"mark":{"type":"bar","size":5},"encoding":{"y":{"field":"o"},"y2":{"field":"c"},"color":{"condition":{"test":"datum.c>=datum.o","value":"#2e62f2"},"value":"#e91e63"}}},
 {"data":{"values":[{"d":"2025-10-19","d2":"2026-05-22","p":58558,"p2":59087}]},
 "mark":{"type":"rule","color":"#0a0ad2","strokeWidth":2.5},"encoding":{"x2":{"field":"d2"},"y2":{"field":"p2"}}},
 {"data":{"values":[{"d":"2024-07-01","p":53555},{"d":"2024-09-23","p":54692},{"d":"2024-12-02","p":54134},{"d":"2025-04-21","p":56340},{"d":"2025-06-30","p":57879},{"d":"2026-02-02","p":62000}]},
 "mark":{"type":"point","shape":"triangle-up","filled":true,"size":26,"opacity":1,"color":"#1a9c80"}},
 {"data":{"values":[{"d":"2024-06-03","p":45866},{"d":"2024-08-12","p":49404},{"d":"2024-11-18","p":49549},{"d":"2025-03-10","p":47468},{"d":"2025-09-01","p":53334}]},
 "mark":{"type":"point","shape":"triangle-down","filled":true,"size":26,"opacity":1,"color":"#f23645"}},
 {"data":{"values":[
 {"d":"2024-04-03","p":63025,"s":"NIFTYBANK-INDEX, 1W, NSE","k":"white"},
 {"d":"2024-09-30","p":63025,"s":"O","k":"white"},{"d":"2024-10-09","p":63025,"s":"56,121.40","k":"rose"},
 {"d":"2024-12-18","p":63025,"s":"H","k":"white"},{"d":"2024-12-28","p":63025,"s":"57,097.05","k":"rose"},
 {"d":"2025-03-08","p":63025,"s":"L","k":"white"},{"d":"2025-03-16","p":63025,"s":"53,675.70","k":"rose"},
 {"d":"2025-05-24","p":63025,"s":"C","k":"white"},{"d":"2025-06-02","p":63025,"s":"53,757.85","k":"rose"},
 {"d":"2025-08-11","p":63025,"s":"−4,025.40","k":"rose"},{"d":"2025-10-16","p":63025,"s":"(−6.97%)","k":"rose"},
 {"d":"2025-12-16","p":63025,"s":"Vol","k":"white"},{"d":"2026-01-04","p":63025,"s":"1.11 B","k":"rose"},
 {"d":"2024-04-03","p":62254,"s":"Volume","k":"white"},{"d":"2024-05-28","p":62254,"s":"1.11 B","k":"rose"},
 {"d":"2024-04-03","p":61493,"s":"VWAP (hlc3, Session)","k":"white"},
 {"d":"2024-04-03","p":60732,"s":"Fractals (5)","k":"white"},{"d":"2024-06-22","p":60732,"s":"0.00","k":"rose"},{"d":"2024-07-28","p":60732,"s":"1.00","k":"teal"}]},
 "mark":{"type":"text","align":"left","baseline":"middle","fontSize":14},"encoding":{"text":{"field":"s"},"color":{"field":"k","type":"nominal","legend":null,"scale":{"domain":["gray","red","lgreen","green","teal","blue","white","rose","mint","gu","fu","gd","fd"],"range":["#787b86","#e0533f","#a5d6a7","#4caf50","#089981","#64b5f6","#d1d4dc","#d81b5c","#ff5252","#26a68f","#ace5d5","#ff5252","#ffcdd2"]}}}},
 {"data":{"values":[{"d":"2024-02-16","p":51431,"s":"FYERS"}]},
 "mark":{"type":"text","align":"left","baseline":"middle","fontSize":50,"fontWeight":"bold","color":"#ffffff","opacity":0.2},"encoding":{"text":{"field":"s"}}},
 {"data":{"values":[{"d":"2026-05-23","d2":"2026-08-06T12:00:00","p":53383,"p2":54133}]},
 "mark":{"type":"rect","color":"#e91e63"},"encoding":{"x2":{"field":"d2"},"y2":{"field":"p2"}}},
 {"data":{"values":[{"d":"2026-05-31","p":53757.85,"s":"53,757.85"}]},
 "mark":{"type":"text","align":"left","baseline":"middle","fontSize":14,"fontWeight":500,"color":"#ffffff"},"encoding":{"text":{"field":"s"}}}
 ]},
{"encoding":{"y":{"field":"m","type":"quantitative","title":null,"scale":{"domain":[-994.6,5702],"nice":false,"zero":false},
 "axis":{"orient":"right","offset":-83,"labelPadding":9,"labelOffset":-1,"format":",.2f","values":[400,0,-400]}}},
 "layer":[
 {"data":{"values":[{"d":"2024-03-25T07:00:00","d2":"2026-05-23","m":400},{"d":"2024-03-25T07:00:00","d2":"2026-05-23","m":0},{"d":"2024-03-25T07:00:00","d2":"2026-05-23","m":-400}]},
 "mark":{"type":"rule","color":"#2b2b2b","strokeWidth":1},"encoding":{"x2":{"field":"d2"}}},
 {"data":{"name":"bank"},"mark":{"type":"bar","size":6.3},"encoding":{"y2":{"datum":0},"color":{"field":"t","type":"nominal","legend":null,"scale":{"domain":["gray","red","lgreen","green","teal","blue","white","rose","mint","gu","fu","gd","fd"],"range":["#787b86","#e0533f","#a5d6a7","#4caf50","#089981","#64b5f6","#d1d4dc","#d81b5c","#ff5252","#26a68f","#ace5d5","#ff5252","#ffcdd2"]}}}},
 {"data":{"values":[{"d":"2024-04-03","m":292,"s":"MACD (48, 104, close, 36, EMA, EMA)"}]},
 "mark":{"type":"text","align":"left","baseline":"middle","fontSize":14,"color":"#d1d4dc","opacity":0.85},"encoding":{"text":{"field":"s"}}},
 {"data":{"values":[{"d":"2024-11-28","m":292,"s":"108.75"}]},
 "mark":{"type":"text","align":"left","baseline":"middle","fontSize":14,"color":"#ace5d5"},"encoding":{"text":{"field":"s"}}},
 {"data":{"values":[{"d":"2026-05-23","d2":"2026-07-18","m":6,"m2":212}]},
 "mark":{"type":"rect","color":"#ace5d5"},"encoding":{"x2":{"field":"d2"},"y2":{"field":"m2"}}},
 {"data":{"values":[{"d":"2026-05-31","m":108.75,"s":"108.75"}]},
 "mark":{"type":"text","align":"left","baseline":"middle","fontSize":14,"fontWeight":500,"color":"#1a1a1a"},"encoding":{"text":{"field":"s"}}}
 ]},
{"encoding":{"y":{"field":"v","type":"quantitative","title":null,"axis":null,"scale":{"domain":[-2.363,8.389],"nice":false,"zero":false}}},
 "layer":[
 {"data":{"values":[{"d":"2026-05-23","d2":"2026-07-13","v":0.9435,"v2":1.2765}]},
 "mark":{"type":"rect","color":"#e91e63"},"encoding":{"x2":{"field":"d2"},"y2":{"field":"v2"}}},
 {"data":{"values":[{"d":"2026-05-31","v":1.11,"s":"1.11 B"}]},
 "mark":{"type":"text","align":"left","baseline":"middle","fontSize":14,"fontWeight":500,"color":"#ffffff"},"encoding":{"text":{"field":"s"}}}
 ]}
]}
]
}
